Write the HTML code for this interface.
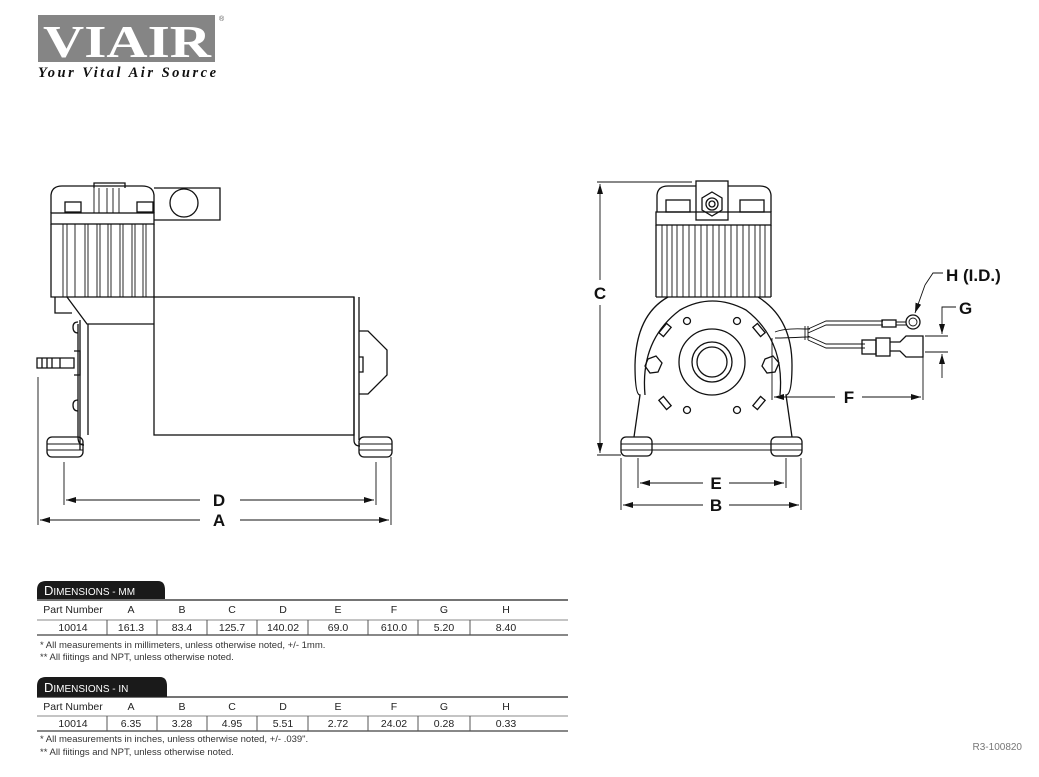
<!DOCTYPE html>
<html><head><meta charset="utf-8"><style>
html,body{margin:0;padding:0;background:#fff;}
svg{display:block;}
.l{fill:none;stroke:#111;stroke-width:1.3;}
.t{stroke:#111;stroke-width:0.9;fill:none;}
.w{fill:#fff;stroke:#111;stroke-width:1.3;}
.dim{font-family:"Liberation Sans",sans-serif;font-weight:bold;font-size:17px;fill:#111;}
.tb{font-family:"Liberation Sans",sans-serif;font-size:10.5px;fill:#222;}
.nt{font-family:"Liberation Sans",sans-serif;font-size:9.5px;fill:#333;}
</style></head><body>
<svg width="1039" height="777" viewBox="0 0 1039 777" xmlns="http://www.w3.org/2000/svg">
<defs>
<marker id="ar" markerWidth="10" markerHeight="6" refX="10" refY="3" orient="auto" markerUnits="userSpaceOnUse"><path d="M0,0 L10,3 L0,6 z" fill="#111"/></marker>
</defs>
<!-- logo -->
<rect x="38" y="15" width="177" height="47" fill="#858585"/>
<text x="43" y="57" font-family="Liberation Serif,serif" font-weight="bold" font-size="46" fill="#fff" textLength="168" lengthAdjust="spacingAndGlyphs">VIAIR</text>
<text x="219" y="21" font-family="Liberation Sans,sans-serif" font-size="7" fill="#555">®</text>
<text x="38" y="77" font-family="Liberation Serif,serif" font-weight="bold" font-style="italic" font-size="14.5" fill="#111" textLength="178">Your Vital Air Source</text>

<!-- LEFT VIEW -->
<g>
<path class="l" d="M94,188 V183 H125 V188"/>
<path class="l" d="M51,213 V195 Q52,186 62,186 H142 Q153,186 154,195 V213"/>
<rect class="l" x="65" y="202" width="16" height="10"/><rect class="l" x="137" y="202" width="16" height="10"/>
<rect class="l" x="51" y="213" width="103" height="11"/>
<path class="l" d="M51,224 V297 H154 V224"/>
<g class="t"><path d="M63,224V297M67,224V297M75,224V297M85,224V297M88,224V297M97,224V297M100,224V297M108,224V297M111,224V297M120,224V297M123,224V297M132,224V297M135,224V297M143,224V297M146,224V297M94,188V213M99,188V213M107,188V213M113,188V213M119,188V213"/></g>
<path class="l" d="M154,188 H220 V220 H154"/>
<circle class="l" cx="184" cy="203" r="14"/>
<rect class="l" x="154" y="297" width="200" height="138"/>
<path class="l" d="M55,297 V313 H72 M67,297 L87,324 H154 M88,324 V435"/>
<path class="l" d="M78,324 V437 Q78,445 84,445"/>
<path class="l" d="M80,320 V450"/>
<path class="l" d="M78,322 Q73,322 73,327 Q73,333 78,333 M78,400 Q73,400 73,405 Q73,411 78,411"/>
<path class="l" d="M37,358 H74 V368 H37 z M74,351 H80 V375 H74 M42,358V368M47,358V368M52,358V368M60,358V368"/>
<rect class="l" x="47" y="437" width="36" height="20" rx="5"/>
<path class="t" d="M47,444H83M47,450H83"/>
<path class="l" d="M354,297 V440 Q354,446 360,446 M359,297 V440"/>
<path class="l" d="M359,331 L368,331 L387,350 V375 L368,394 H359"/>
<path class="l" d="M359,357 H363 V372 H359"/>
<rect class="l" x="359" y="437" width="33" height="20" rx="5"/>
<path class="t" d="M359,444H392M359,450H392"/>
<!-- dims -->
<path class="t" d="M38,377 V525 M64,462 V505 M376,462 V505 M391,457 V525"/>
<line class="t" x1="200" y1="500" x2="66" y2="500" marker-end="url(#ar)"/>
<line class="t" x1="240" y1="500" x2="374" y2="500" marker-end="url(#ar)"/>
<line class="t" x1="200" y1="520" x2="40" y2="520" marker-end="url(#ar)"/>
<line class="t" x1="240" y1="520" x2="389" y2="520" marker-end="url(#ar)"/>
<text class="dim" x="219" y="506" text-anchor="middle">D</text>
<text class="dim" x="219" y="526" text-anchor="middle">A</text>
</g>

<!-- RIGHT VIEW -->
<g>
<path class="l" d="M657,212 V195 Q658,186 668,186 H760 Q770,186 771,195 V212"/>
<rect class="w" x="696" y="181" width="32" height="39"/>
<polygon class="l" points="712,192 722,198 722,210 712,216 702,210 702,198"/>
<circle class="l" cx="712" cy="204" r="6"/><circle class="l" cx="712" cy="204" r="3"/>
<rect class="l" x="666" y="200" width="24" height="12"/><rect class="l" x="740" y="200" width="24" height="12"/>
<rect class="l" x="656" y="212" width="115" height="13"/>
<path class="l" d="M656,225 V297 M771,225 V297 M656,297 H771"/>
<g class="t"><path d="M662,225V297M667,225V297M672,225V297M677,225V297M683,225V297M689,225V297M695,225V297M701,225V297M707,225V297M713,225V297M719,225V297M725,225V297M731,225V297M737,225V297M743,225V297M749,225V297M755,225V297M760,225V297M765,225V297"/></g>
<path class="l" d="M668,297 Q636,315 635,365 Q635,395 640,395 L634,437 M758,297 Q792,318 792,365 Q792,395 786,395 L792,437"/>
<path class="l" d="M645,395 Q640,340 680,310 Q712,292 746,310 Q785,340 780,395"/>
<circle class="l" cx="712" cy="362" r="33"/><circle class="l" cx="712" cy="362" r="20"/><circle class="l" cx="712" cy="362" r="15"/>
<polygon class="l" points="648,359 656,356 662,363 658,372 650,373 645,366"/>
<polygon class="l" points="765,359 773,356 779,363 775,372 767,373 762,366"/>
<g class="l"><circle cx="687" cy="321" r="3.5"/><circle cx="737" cy="321" r="3.5"/><circle cx="687" cy="410" r="3.5"/><circle cx="737" cy="410" r="3.5"/></g>
<g class="l"><rect x="-3" y="-6" width="6" height="12" transform="translate(665,330) rotate(40)"/><rect x="-3" y="-6" width="6" height="12" transform="translate(759,330) rotate(-40)"/><rect x="-3" y="-6" width="6" height="12" transform="translate(665,403) rotate(-40)"/><rect x="-3" y="-6" width="6" height="12" transform="translate(759,403) rotate(40)"/></g>
<rect class="w" x="621" y="437" width="31" height="19" rx="5"/><rect class="w" x="771" y="437" width="31" height="19" rx="5"/>
<path class="t" d="M621,444H802M621,450H802"/>
<!-- wires -->
<path class="t" d="M775,332 Q785,328 805,329 H810 M775,338 Q785,338 805,337 H810 M805,326V340M808,326V340"/>
<path class="t" d="M808,329 L826,321 H883 M808,333 L826,325 H883 M808,336 L826,344 H865 M808,340 L826,348 H865"/>
<rect class="l" x="882" y="320" width="14" height="7"/><path class="t" d="M896,322H906M896,325H906"/>
<circle class="l" cx="913" cy="322" r="7"/><circle class="t" cx="913" cy="322" r="4"/>
<rect class="l" x="862" y="340" width="14" height="14"/><rect class="l" x="876" y="338" width="14" height="18"/>
<path class="l" d="M890,342 L900,342 L906,336 H923 V357 H906 L900,351 H890"/>
<!-- dims -->
<path class="t" d="M597,182 H692 M597,455 H621"/>
<line class="t" x1="600" y1="280" x2="600" y2="184" marker-end="url(#ar)"/>
<line class="t" x1="600" y1="305" x2="600" y2="453" marker-end="url(#ar)"/>
<text class="dim" x="600" y="299" text-anchor="middle">C</text>
<path class="t" d="M621,458 V510 M638,458 V488 M786,458 V488 M801,458 V510"/>
<line class="t" x1="703" y1="483" x2="640" y2="483" marker-end="url(#ar)"/>
<line class="t" x1="729" y1="483" x2="784" y2="483" marker-end="url(#ar)"/>
<line class="t" x1="703" y1="505" x2="623" y2="505" marker-end="url(#ar)"/>
<line class="t" x1="729" y1="505" x2="799" y2="505" marker-end="url(#ar)"/>
<text class="dim" x="716" y="489" text-anchor="middle">E</text>
<text class="dim" x="716" y="511" text-anchor="middle">B</text>
<path class="t" d="M772,338 V400 M923,357 V400"/>
<line class="t" x1="835" y1="397" x2="774" y2="397" marker-end="url(#ar)"/>
<line class="t" x1="862" y1="397" x2="921" y2="397" marker-end="url(#ar)"/>
<text class="dim" x="849" y="403" text-anchor="middle">F</text>
<path class="t" d="M925,336 H948 M925,352 H948 M956,307 H942 V318 M942,370 V378"/>
<line class="t" x1="942" y1="318" x2="942" y2="334" marker-end="url(#ar)"/>
<line class="t" x1="942" y1="370" x2="942" y2="354" marker-end="url(#ar)"/>
<text class="dim" x="959" y="314">G</text>
<path class="t" d="M943,273 H933 L925,285"/>
<line class="t" x1="925" y1="285" x2="915" y2="313" marker-end="url(#ar)"/>
<text class="dim" x="946" y="281">H (I.D.)</text>
</g>

<!-- TABLES -->
<g id="tbl1">
<path d="M37,599 V590 Q37,581 46,581 H158 Q165,581 165,590 V599 z" fill="#1a1a1a"/>
<text x="44" y="595" font-family="Liberation Sans,sans-serif" font-size="13" fill="#fff">D<tspan font-size="10">IMENSIONS - MM</tspan></text>
<line x1="37" y1="600" x2="568" y2="600" stroke="#222" stroke-width="1.2"/>
<line x1="37" y1="620" x2="568" y2="620" stroke="#888" stroke-width="1"/>
<line x1="37" y1="635" x2="568" y2="635" stroke="#888" stroke-width="2"/>
<g stroke="#555" stroke-width="1"><path d="M107,620V635M157,620V635M207,620V635M257,620V635M308,620V635M368,620V635M418,620V635M470,620V635"/></g>
<g class="tb" text-anchor="middle">
<text x="73" y="613">Part Number</text><text x="131" y="613">A</text><text x="182" y="613">B</text><text x="232" y="613">C</text><text x="283" y="613">D</text><text x="338" y="613">E</text><text x="394" y="613">F</text><text x="444" y="613">G</text><text x="506" y="613">H</text>
<text x="73" y="631">10014</text><text x="131" y="631">161.3</text><text x="182" y="631">83.4</text><text x="232" y="631">125.7</text><text x="283" y="631">140.02</text><text x="338" y="631">69.0</text><text x="394" y="631">610.0</text><text x="444" y="631">5.20</text><text x="506" y="631">8.40</text>
</g>
<text class="nt" x="40" y="648">* All measurements in millimeters, unless otherwise noted, +/- 1mm.</text>
<text class="nt" x="40" y="660">** All fiitings and NPT, unless otherwise noted.</text>
</g>
<g>
<path d="M37,697 V686 Q37,677 46,677 H160 Q167,677 167,686 V697 z" fill="#1a1a1a"/>
<text x="44" y="692" font-family="Liberation Sans,sans-serif" font-size="13" fill="#fff">D<tspan font-size="10">IMENSIONS - IN</tspan></text>
<line x1="37" y1="697" x2="568" y2="697" stroke="#222" stroke-width="1.2"/>
<line x1="37" y1="716" x2="568" y2="716" stroke="#888" stroke-width="1"/>
<line x1="37" y1="731" x2="568" y2="731" stroke="#888" stroke-width="2"/>
<g stroke="#555" stroke-width="1"><path d="M107,716V731M157,716V731M207,716V731M257,716V731M308,716V731M368,716V731M418,716V731M470,716V731"/></g>
<g class="tb" text-anchor="middle">
<text x="73" y="710">Part Number</text><text x="131" y="710">A</text><text x="182" y="710">B</text><text x="232" y="710">C</text><text x="283" y="710">D</text><text x="338" y="710">E</text><text x="394" y="710">F</text><text x="444" y="710">G</text><text x="506" y="710">H</text>
<text x="73" y="727">10014</text><text x="131" y="727">6.35</text><text x="182" y="727">3.28</text><text x="232" y="727">4.95</text><text x="283" y="727">5.51</text><text x="338" y="727">2.72</text><text x="394" y="727">24.02</text><text x="444" y="727">0.28</text><text x="506" y="727">0.33</text>
</g>
<text class="nt" x="40" y="742">* All measurements in inches, unless otherwise noted, +/- .039".</text>
<text class="nt" x="40" y="755">** All fiitings and NPT, unless otherwise noted.</text>
</g>
<text x="1022" y="750" text-anchor="end" font-family="Liberation Sans,sans-serif" font-size="10" fill="#777">R3-100820</text>
</svg>
</body></html>
